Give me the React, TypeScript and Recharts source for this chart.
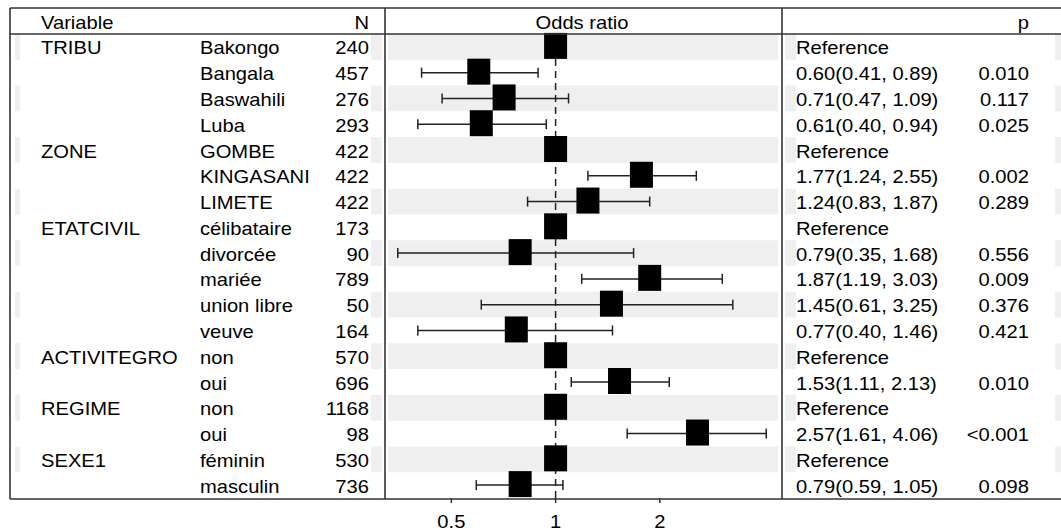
import React from 'react';
import { ScatterChart, Scatter, XAxis, YAxis, ErrorBar, ReferenceLine, ReferenceArea } from 'recharts';

const groups = ['TRIBU', '', '', '', 'ZONE', '', '', 'ETATCIVIL', '', '', '', '', 'ACTIVITEGRO', '', 'REGIME', '', 'SEXE1', ''];
const levels = ['Bakongo', 'Bangala', 'Baswahili', 'Luba', 'GOMBE', 'KINGASANI', 'LIMETE', 'célibataire', 'divorcée', 'mariée', 'union libre', 'veuve', 'non', 'oui', 'non', 'oui', 'féminin', 'masculin'];
const counts = [240, 457, 276, 293, 422, 422, 422, 173, 90, 789, 50, 164, 570, 696, 1168, 98, 530, 736];
const oddsRatios = [1, 0.6, 0.71, 0.61, 1, 1.77, 1.24, 1, 0.79, 1.87, 1.45, 0.77, 1, 1.53, 1, 2.57, 1, 0.79];
const lower = [1, 0.41, 0.47, 0.4, 1, 1.24, 0.83, 1, 0.35, 1.19, 0.61, 0.4, 1, 1.11, 1, 1.61, 1, 0.59];
const upper = [1, 0.89, 1.09, 0.94, 1, 2.55, 1.87, 1, 1.68, 3.03, 3.25, 1.46, 1, 2.13, 1, 4.06, 1, 1.05];
const isReference = [true, false, false, false, true, false, false, true, false, false, false, false, true, false, true, false, true, false];
const pValues = ['', '0.010', '0.117', '0.025', '', '0.002', '0.289', '', '0.556', '0.009', '0.376', '0.421', '', '0.010', '', '<0.001', '', '0.098'];
const xTicks = [0.5, 1, 2];

const rows = levels.map((_, i) => ({
  x: oddsRatios[i],
  y: i,
  err: [oddsRatios[i] - lower[i], upper[i] - oddsRatios[i]],
}));
const rowIndex = levels.map((_, i) => i);

const FONT = '"Liberation Sans", Arial, sans-serif';
const STRIPE = '#efefef';
const LINE = '#333';

const fmt = (v: number) => v.toFixed(2);

// the source text is a bit wider than it is tall, so stretch it a little
function T({ x, y, anchor = 'start', children }: any) {
  return (
    <text
      transform={`translate(${x},${y}) scale(1.12,1)`}
      fontSize={18}
      fontFamily={FONT}
      fill="#000"
      textAnchor={anchor}
    >
      {children}
    </text>
  );
}

function RowTick(props: any) {
  const i = props.payload.value as number;
  const y = props.y;
  const base = y + 7.6;
  const label = isReference[i] ? 'Reference' : `${fmt(oddsRatios[i])}(${fmt(lower[i])}, ${fmt(upper[i])})`;
  const top = y - 12.9;
  return (
    <g>
      {i % 2 === 0 && (
        <g fill={STRIPE}>
          <rect x={15} y={top} width={5} height={25.8} />
          <rect x={371} y={top} width={11} height={25.8} />
          <rect x={785} y={top} width={11} height={25.8} />
          <rect x={1055} y={top} width={6} height={25.8} />
        </g>
      )}
      <T x={41} y={base}>{groups[i]}</T>
      <T x={200} y={base}>{levels[i]}</T>
      <T x={369} y={base} anchor="end">{counts[i]}</T>
      <T x={796} y={base}>{label}</T>
      <T x={1029} y={base} anchor="end">{pValues[i]}</T>
    </g>
  );
}

function XTick(props: any) {
  return (
    <g>
      <T x={props.x} y={528} anchor="middle">{props.payload.value}</T>
    </g>
  );
}

const Box = (p: any) => <rect x={p.cx - 11.5} y={p.cy - 14} width={23} height={26} fill="#000" />;

export default function App() {
  return (
    <div style={{ position: 'absolute', left: 0, top: 0, width: 1061, height: 532, background: '#fff' }}>
      <style>{'body{margin:0}'}</style>
      <ScatterChart width={1061} height={532} margin={{ top: 34, right: 283, bottom: 0, left: 0 }}>
        <XAxis
          dataKey="x"
          type="number"
          scale="log"
          domain={[0.328, 4.39]}
          allowDataOverflow
          ticks={xTicks}
          height={34}
          axisLine={false}
          tickLine={{ stroke: LINE, strokeWidth: 1.5 }}
          tickSize={5}
          tick={<XTick />}
        />
        <YAxis
          dataKey="y"
          type="number"
          domain={[-0.5, 17.5]}
          reversed
          ticks={rowIndex}
          interval={0}
          width={388}
          axisLine={false}
          tickLine={false}
          tick={<RowTick />}
        />
        {rowIndex.filter((i) => i % 2 === 0).map((i) => (
          <ReferenceArea key={i} y1={i - 0.5} y2={i + 0.5} fill={STRIPE} fillOpacity={1} stroke="none" />
        ))}
        <ReferenceLine x={1} stroke="#222" strokeWidth={1.5} strokeDasharray="7 5" />
        <Scatter data={rows} shape={Box} isAnimationActive={false}>
          <ErrorBar dataKey="err" direction="x" width={5} stroke="#222" strokeWidth={1.5} isAnimationActive={false} />
        </Scatter>
      </ScatterChart>
      <svg width={1061} height={532} style={{ position: 'absolute', left: 0, top: 0, pointerEvents: 'none' }}>
        <g stroke={LINE} strokeWidth={1.6} fill="none">
          <line x1={10} y1={8} x2={1061} y2={8} />
          <line x1={10} y1={34} x2={1061} y2={34} />
          <line x1={10} y1={499} x2={1061} y2={499} />
          <line x1={10} y1={8} x2={10} y2={499} />
          <line x1={385} y1={8} x2={385} y2={499} />
          <line x1={782} y1={8} x2={782} y2={499} />
        </g>
        <T x={41} y={29}>Variable</T>
        <T x={369} y={29} anchor="end">N</T>
        <T x={582} y={29} anchor="middle">Odds ratio</T>
        <T x={1029} y={29} anchor="end">p</T>
      </svg>
    </div>
  );
}
